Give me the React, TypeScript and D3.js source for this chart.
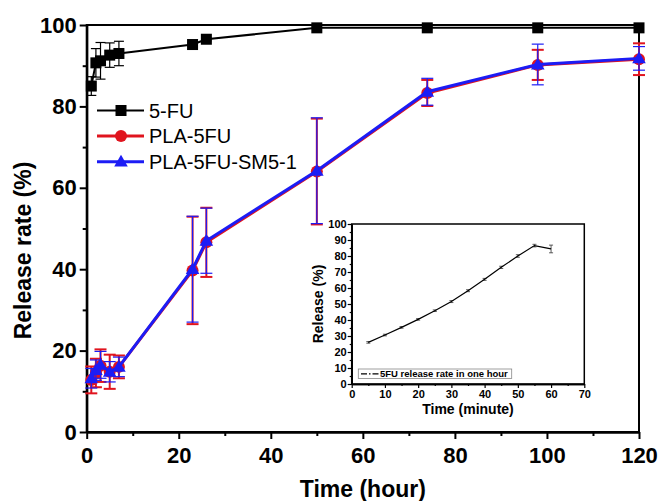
import React, { useEffect, useRef } from 'react';
import * as d3 from 'd3';

// main chart data (hours)
const hours = [1, 2, 3, 5, 7, 23, 26, 50, 74, 98, 120];
const fu = [85, 90.7, 91.2, 92.6, 93, 95.2, 96.5, 99.3, 99.3, 99.3, 99.3];
const fuErr = [2.3, 3.5, 4.5, 3, 3, 0.4, 0.4, 0.3, 0.3, 0.3, 0.3];
const pla = [12.8, 14.5, 16.3, 14.8, 16.0, 39.7, 46.6, 64, 83.3, 90.2, 91.6];
const plaErr = [3.3, 3.5, 4.0, 4.2, 2.8, 13.2, 8.5, 13, 3.2, 3.7, 3.9];
const plaSm = [13.2, 15.2, 16.5, 14.8, 16.0, 40.0, 47.0, 64.2, 83.6, 90.3, 91.8];
const plaSmErr = [2.4, 2.5, 3.3, 2.5, 2.4, 13, 8, 13, 3.3, 5, 2.9];
const seriesNames = ['5-FU', 'PLA-5FU', 'PLA-5FU-SM5-1'];
const xTicks = [0, 20, 40, 60, 80, 100, 120];
const yTicks = [0, 20, 40, 60, 80, 100];

// inset data (minutes)
const minutes = [5, 10, 15, 20, 25, 30, 35, 40, 45, 50, 55, 60];
const oneHour = [26, 30.6, 35.4, 40.4, 45.8, 51.5, 58.3, 65.4, 72.9, 80, 86.5, 84.4];
const oneHourErr = [0.5, 0.5, 0.5, 0.5, 0.5, 0.6, 0.6, 0.6, 0.7, 0.8, 0.8, 2.4];
const insetXTicks = [0, 10, 20, 30, 40, 50, 60, 70];
const insetYTicks = [0, 10, 20, 30, 40, 50, 60, 70, 80, 90, 100];

const RED = '#e0141e';
const BLUE = '#1c1cf5';
const FONT = 'Liberation Sans, Arial, sans-serif';

const App = () => {
    const ref = useRef<SVGSVGElement | null>(null);

    useEffect(() => {
        const svg = d3.select(ref.current);
        svg.selectAll('*').remove();

        const x = d3.scaleLinear().domain([0, 120]).range([86.7, 639]);
        const y = d3.scaleLinear().domain([0, 100]).range([432, 25]);

        const g = svg.append('g');

        // frame
        g.append('rect')
            .attr('x', x(0)).attr('y', y(100))
            .attr('width', x(120) - x(0)).attr('height', y(0) - y(100))
            .attr('fill', 'none').attr('stroke', '#000').attr('stroke-width', 2);

        // axes
        const xAxis = g.append('g').attr('transform', `translate(0,${y(0)})`)
            .call(d3.axisBottom(x).tickValues(xTicks).tickSize(7).tickSizeOuter(0));
        g.append('g').attr('transform', `translate(0,${y(0)})`)
            .call(d3.axisBottom(x).tickValues(d3.range(10, 120, 20)).tickSize(4).tickFormat(() => '').tickSizeOuter(0));
        const yAxis = g.append('g').attr('transform', `translate(${x(0)},0)`)
            .call(d3.axisLeft(y).tickValues(yTicks).tickSize(7).tickSizeOuter(0));
        g.append('g').attr('transform', `translate(${x(0)},0)`)
            .call(d3.axisLeft(y).tickValues(d3.range(10, 100, 20)).tickSize(4).tickFormat(() => '').tickSizeOuter(0));
        g.selectAll('.domain').attr('stroke-width', 2);
        g.selectAll('.tick line').attr('stroke-width', 2);
        xAxis.selectAll('text').attr('font-family', FONT).attr('font-size', 22)
            .attr('font-weight', 'bold').attr('dy', '0.95em').attr('y', 10);
        yAxis.selectAll('text').attr('font-family', FONT).attr('font-size', 22)
            .attr('font-weight', 'bold').attr('x', -10);

        g.append('text').attr('x', (x(0) + x(120)) / 2).attr('y', 497)
            .attr('text-anchor', 'middle').attr('font-family', FONT)
            .attr('font-size', 23).attr('font-weight', 'bold').text('Time (hour)');
        g.append('text').attr('transform', `translate(31,${y(50) + 22}) rotate(-90)`)
            .attr('text-anchor', 'middle').attr('font-family', FONT)
            .attr('font-size', 23).attr('font-weight', 'bold').text('Release rate (%)');

        const line = d3.line<number>().x((d, i) => x(hours[i])).y(d => y(d));

        const drawErr = (vals: number[], errs: number[], color: string, cap: number, w: number) => {
            const eg = g.append('g').attr('stroke', color).attr('stroke-width', w);
            vals.forEach((v, i) => {
                const cx = x(hours[i]);
                eg.append('line').attr('x1', cx).attr('x2', cx).attr('y1', y(v - errs[i])).attr('y2', y(v + errs[i]));
                [v - errs[i], v + errs[i]].forEach(e => {
                    eg.append('line').attr('x1', cx - cap).attr('x2', cx + cap).attr('y1', y(e)).attr('y2', y(e));
                });
            });
        };

        // 5-FU
        drawErr(fu, fuErr, '#000', 5, 1.2);
        g.append('path').datum(fu).attr('d', line).attr('fill', 'none').attr('stroke', '#000').attr('stroke-width', 2);
        g.append('g').selectAll('rect').data(fu).join('rect')
            .attr('x', (d, i) => x(hours[i]) - 5.5).attr('y', d => y(d) - 5.5)
            .attr('width', 11).attr('height', 11).attr('fill', '#000');

        // PLA-5FU
        drawErr(pla, plaErr, RED, 6, 2);
        g.append('path').datum(pla).attr('d', line).attr('fill', 'none').attr('stroke', RED).attr('stroke-width', 3);
        g.append('g').selectAll('circle').data(pla).join('circle')
            .attr('cx', (d, i) => x(hours[i])).attr('cy', d => y(d)).attr('r', 6).attr('fill', RED);

        // PLA-5FU-SM5-1
        drawErr(plaSm, plaSmErr, BLUE, 6, 1.2);
        g.append('path').datum(plaSm).attr('d', line).attr('fill', 'none').attr('stroke', BLUE).attr('stroke-width', 3);
        const tri = d3.symbol().type(d3.symbolTriangle).size(80);
        g.append('g').selectAll('path').data(plaSm).join('path')
            .attr('transform', (d, i) => `translate(${x(hours[i])},${y(d) + 1})`)
            .attr('d', tri).attr('fill', BLUE);

        // legend
        const legY = [110.5, 136, 161.7];
        const legColors = ['#000', RED, BLUE];
        seriesNames.forEach((name, i) => {
            const lg = g.append('g');
            lg.append('line').attr('x1', 97).attr('x2', 144).attr('y1', legY[i]).attr('y2', legY[i])
                .attr('stroke', legColors[i]).attr('stroke-width', i === 0 ? 2 : 3);
            if (i === 0) lg.append('rect').attr('x', 115.5).attr('y', legY[i] - 5.5).attr('width', 11).attr('height', 11).attr('fill', '#000');
            if (i === 1) lg.append('circle').attr('cx', 121).attr('cy', legY[i]).attr('r', 6).attr('fill', RED);
            if (i === 2) lg.append('path').attr('transform', `translate(121,${legY[i] + 1})`).attr('d', tri).attr('fill', BLUE);
            lg.append('text').attr('x', 149).attr('y', legY[i]).attr('dy', '0.36em')
                .attr('font-family', FONT).attr('font-size', 20).text(name);
        });

        // inset
        const ix = d3.scaleLinear().domain([0, 70]).range([351.7, 584.3]);
        const iy = d3.scaleLinear().domain([0, 100]).range([384, 224]);
        const ig = svg.append('g');
        ig.append('rect').attr('x', ix(0)).attr('y', iy(100))
            .attr('width', ix(70) - ix(0)).attr('height', iy(0) - iy(100))
            .attr('fill', '#fff').attr('stroke', '#000').attr('stroke-width', 1.5);
        const ixAxis = ig.append('g').attr('transform', `translate(0,${iy(0)})`)
            .call(d3.axisBottom(ix).tickValues(insetXTicks).tickSize(4).tickSizeOuter(0));
        ig.append('g').attr('transform', `translate(0,${iy(0)})`)
            .call(d3.axisBottom(ix).tickValues(d3.range(5, 70, 10)).tickSize(2).tickFormat(() => '').tickSizeOuter(0));
        const iyAxis = ig.append('g').attr('transform', `translate(${ix(0)},0)`)
            .call(d3.axisLeft(iy).tickValues(insetYTicks).tickSize(4).tickSizeOuter(0));
        ig.append('g').attr('transform', `translate(${ix(0)},0)`)
            .call(d3.axisLeft(iy).tickValues(d3.range(5, 100, 10)).tickSize(2).tickFormat(() => '').tickSizeOuter(0));
        ig.selectAll('.domain').attr('stroke-width', 1.5);
        ig.selectAll('.tick line').attr('stroke-width', 1.2);
        ixAxis.selectAll('text').attr('font-family', FONT).attr('font-size', 11)
            .attr('font-weight', 'bold').attr('y', 6);
        iyAxis.selectAll('text').attr('font-family', FONT).attr('font-size', 11)
            .attr('font-weight', 'bold').attr('x', -5);
        ig.append('text').attr('x', (ix(0) + ix(70)) / 2).attr('y', 414)
            .attr('text-anchor', 'middle').attr('font-family', FONT)
            .attr('font-size', 14).attr('font-weight', 'bold').text('Time (minute)');
        ig.append('text').attr('transform', `translate(323,${iy(50)}) rotate(-90)`)
            .attr('text-anchor', 'middle').attr('font-family', FONT)
            .attr('font-size', 14).attr('font-weight', 'bold').text('Release (%)');

        const iline = d3.line<number>().x((d, i) => ix(minutes[i])).y(d => iy(d));
        const ieg = ig.append('g').attr('stroke', '#333').attr('stroke-width', 0.8);
        oneHour.forEach((v, i) => {
            const cx = ix(minutes[i]);
            ieg.append('line').attr('x1', cx).attr('x2', cx).attr('y1', iy(v - oneHourErr[i])).attr('y2', iy(v + oneHourErr[i]));
            [v - oneHourErr[i], v + oneHourErr[i]].forEach(e => {
                ieg.append('line').attr('x1', cx - 2).attr('x2', cx + 2).attr('y1', iy(e)).attr('y2', iy(e));
            });
        });
        ig.append('path').datum(oneHour).attr('d', iline).attr('fill', 'none').attr('stroke', '#000').attr('stroke-width', 1.2);

        // inset legend
        ig.append('rect').attr('x', 358.3).attr('y', 369).attr('width', 153.4).attr('height', 9.5)
            .attr('fill', '#fff').attr('stroke', '#888').attr('stroke-width', 0.8);
        ig.append('line').attr('x1', 361).attr('x2', 379).attr('y1', 373.8).attr('y2', 373.8)
            .attr('stroke', '#000').attr('stroke-width', 1.2).attr('stroke-dasharray', '6,2,1.5,2');
        ig.append('text').attr('x', 380).attr('y', 373.8).attr('dy', '0.36em')
            .attr('font-family', FONT).attr('font-size', 9.5).attr('font-weight', 'bold')
            .text('5FU release rate in one hour');
    }, []);

    return (
        <svg ref={ref} width={662} height={501}
            style={{ position: 'absolute', left: 0, top: 0, background: '#fff' }} />
    );
};

export default App;
